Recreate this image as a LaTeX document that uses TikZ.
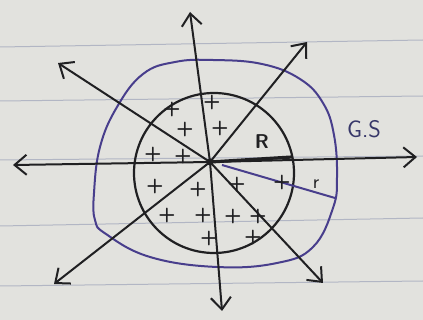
\documentclass[tikz,border=0pt]{standalone}
\usetikzlibrary{arrows.meta}
\definecolor{paper}{RGB}{226,226,222}
\definecolor{paperline}{RGB}{178,182,196}
\definecolor{ink}{RGB}{32,32,34}
\definecolor{gsblue}{RGB}{72,62,140}
\definecolor{gstext}{RGB}{55,55,105}
\begin{document}
\begin{tikzpicture}[x=1pt,y=-1pt,
  ray/.style={draw=ink, line width=2pt, -{Straight Barb[length=12pt,width=20pt,line width=2pt]}},
  plus/.style={text=ink, font=\sffamily\bfseries\fontsize{20}{20}\selectfont, inner sep=0pt},
  ruled/.style={draw=paperline, line width=1pt},
  gs/.style={draw=gsblue, line width=2pt},
  sphere/.style={circle, draw=ink, line width=2.2pt, minimum size=160pt, inner sep=0pt},
  lab/.style={text=ink, inner sep=0pt}]
\useasboundingbox (0,0) rectangle (423,320);
\fill[paper] (0,0) rectangle (423,320);
% ruled paper
\coordinate (p1a) at (0,47);  \coordinate (p1b) at (423,40);
\coordinate (p2a) at (0,101); \coordinate (p2b) at (423,96);
\coordinate (p3a) at (0,160); \coordinate (p3b) at (423,156);
\coordinate (p4a) at (0,226); \coordinate (p4b) at (423,218);
\coordinate (p5a) at (0,286); \coordinate (p5b) at (423,281);
\foreach \i in {1,...,5} \draw[ruled] (p\i a) -- (p\i b);
% Gaussian surface
\draw[gs] plot[smooth cycle, tension=0.7] coordinates {
  (213,60) (262,64) (300,79) (323,103) (334,135) (337,177) (333,208)
  (313,247) (277,263) (217,267) (150,257) (106,234) (95,220)
  (94,193) (100,147) (117,107) (143,74) (175,62)};
% charged sphere
\node[sphere] (sph) at (214,173) {};
% rays
\coordinate (o) at (210,162);
\coordinate (tN) at (190,12);
\coordinate (tNE) at (307,42);
\coordinate (tE) at (417,157);
\coordinate (tSE) at (323,283);
\coordinate (tS) at (222,311);
\coordinate (tSW) at (54,284);
\coordinate (tW) at (13,165);
\coordinate (tNW) at (58,63);
\foreach \t in {tN,tNE,tE,tSE,tS,tSW,tW,tNW} \draw[ray] (o) -- (\t);
% radius R
\coordinate (rR) at (292,157);
\draw[draw=ink, line width=3.2pt] (o) -- (rR);
\fill[ink] (o) circle (3.5pt);
% radius r
\coordinate (o2) at (222,165);
\coordinate (rr) at (335,198);
\draw[gs] (o2) -- (rr);
% charges
\foreach \p/\q [count=\k] in {172/110, 212/103, 185/130, 220/129, 153/155, 183/157,
  155/187, 198/190, 237/185, 282/183, 167/216, 203/216, 233/217, 258/217,
  209/239, 253/238}
  \node[plus] (q\k) at (\p,\q) {+};
% labels
\node[lab, font=\sffamily\bfseries\fontsize{20}{20}\selectfont] (lR) at (262,142) {R};
\node[lab, font=\sffamily\fontsize{20}{20}\selectfont] (lr) at (316,184) {r};
\node[lab, text=gstext, font=\sffamily\fontsize{24}{24}\selectfont] (lgs) at (364,129) {G.S};
\end{tikzpicture}
\end{document}
